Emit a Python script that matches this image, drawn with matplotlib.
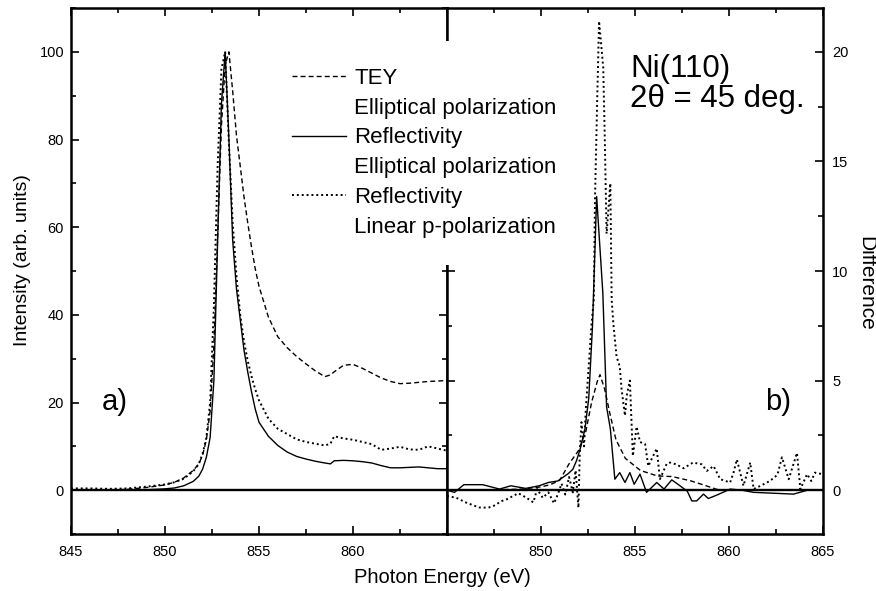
import matplotlib
matplotlib.use("Agg")
import matplotlib.pyplot as plt
from matplotlib.lines import Line2D
from matplotlib.ticker import MultipleLocator

plt.rcParams['font.family'] = ['Liberation Sans', 'DejaVu Sans']

# ---- panel a): normalised spectra -------------------------------------------
energy_a = [845, 846, 847, 848, 849, 850, 850.5, 851, 851.5, 851.8,
            852.0, 852.2, 852.4, 852.6, 852.8, 853.0, 853.2, 853.4, 853.6, 853.8,
            854.0, 854.2, 854.4, 854.6, 854.8, 855.0, 855.5, 856.0, 856.5, 857.0,
            857.5, 858.0, 858.5, 858.8, 859.0, 859.5, 860.0, 860.5, 861.0, 861.5,
            862.0, 862.5, 863.0, 863.5, 864.0, 864.5, 865.0]

tey_elliptical = [0, 0, 0, 0.2, 0.6, 1.2, 1.8, 2.8, 4.5, 6.0,
                  8.0, 11.5, 18, 33, 58, 83, 97, 100, 91, 81,
                  74, 67, 61, 55.5, 50.5, 46.5, 39.5, 35, 32.5, 30.5,
                  28.8, 27.2, 25.9, 26.3, 27.0, 28.5, 28.7, 27.8, 26.7, 25.6,
                  24.8, 24.3, 24.4, 24.6, 24.8, 24.9, 25.0]

refl_elliptical = [0, 0, 0, 0, 0.1, 0.3, 0.5, 1.0, 2.0, 3.2,
                   4.8, 7.5, 12, 25, 57, 88, 100, 80, 57, 46,
                   39, 32, 27, 22.5, 18.5, 15.5, 12.3, 10.2, 8.7, 7.7,
                   7.1, 6.6, 6.2, 6.0, 6.7, 6.8, 6.7, 6.5, 6.2, 5.6,
                   5.1, 5.1, 5.2, 5.3, 5.1, 4.9, 4.9]

refl_linear_p = [0.4, 0.4, 0.3, 0.4, 0.8, 1.3, 1.8, 2.6, 4.3, 6.0,
                 8.3, 12, 20, 42, 74, 96, 100, 79, 61, 49,
                 40, 34, 29.5, 26, 23, 20.5, 16.3, 14.0, 12.8, 11.6,
                 11.0, 10.6, 10.2, 10.6, 12.3, 11.8, 11.5, 11.0, 10.5, 9.2,
                 9.5, 9.9, 9.3, 9.2, 10.0, 9.5, 9.0]

# ---- panel b): dichroic differences -----------------------------------------
energy_b_tey = [845, 847, 849, 850, 850.5, 851.0, 851.5, 852.0, 852.4, 852.7,
                853.0, 853.15, 853.4, 853.7, 854.0, 854.5, 855.3, 856.2, 857.0,
                858.0, 858.8, 859.5, 861, 863, 865]
diff_tey = [0, 0, 0.05, 0.15, 0.25, 0.45, 1.2, 1.8, 2.7, 4.0,
            4.95, 5.27, 4.6, 3.4, 2.3, 1.45, 0.9, 0.65, 0.62,
            0.42, 0.2, 0.0, 0, 0, 0]

energy_b_refl = [845.0, 845.4, 845.9, 846.9, 847.8, 848.4, 849.2, 849.9, 850.4, 850.9,
                 851.2, 851.45, 851.7, 851.9, 852.1, 852.35, 852.55, 852.75, 852.97, 853.3,
                 853.5, 853.7, 853.94, 854.2, 854.48, 854.74, 854.97, 855.28, 855.63, 856.17,
                 856.56, 856.97, 857.41, 857.8, 858.04, 858.3, 858.66, 858.92, 859.3, 859.7,
                 860.08, 860.7, 861.33, 862.4, 863.46, 864.2, 865.0]
diff_refl = [0.0, -0.1, 0.25, 0.25, 0.05, 0.2, 0.08, 0.2, 0.35, 0.42,
             0.6, 0.75, 0.95, 1.35, 1.9, 2.8, 4.2, 7.5, 13.4, 9.0,
             3.8, 2.8, 0.5, 0.8, 0.35, 0.8, 0.27, 0.73, -0.1, 0.35,
             0.05, 0.47, 0.2, -0.05, -0.49, -0.49, -0.18, -0.38, -0.25, -0.1,
             0.05, 0.0, -0.1, -0.14, -0.18, 0.0, 0.0]

energy_b_lin = [845.0, 845.5, 846.0, 846.7, 847.2, 847.5, 847.9, 848.2, 848.8, 849.2,
                849.6, 849.8, 850.1, 850.4, 850.7, 850.9, 851.1, 851.3, 851.5, 851.7,
                851.85, 852.0, 852.07, 852.16, 852.3, 852.4, 852.52, 852.7, 852.82, 852.88,
                853.0, 853.1, 853.32, 853.4, 853.5, 853.7, 853.77, 853.86, 854.03, 854.2,
                854.3, 854.48, 854.57, 854.74, 854.9, 855.1, 855.28, 855.55, 855.72, 856.17,
                856.34, 856.7, 856.88, 857.2, 857.6, 858.1, 858.57, 858.84, 859.2, 859.55,
                860.08, 860.26, 860.44, 860.79, 861.15, 861.33, 861.7, 862.2, 862.6, 862.84,
                863.2, 863.64, 863.82, 864.18, 864.4, 864.6, 865.0]
diff_lin = [-0.26, -0.35, -0.56, -0.79, -0.8, -0.71, -0.5, -0.41, -0.14, -0.33,
            -0.56, 0.05, -0.35, -0.1, -0.6, -0.2, 0.3, -0.2, 0.6, -0.1,
            0.9, -0.8, 1.6, 3.1, 2.0, 3.8, 5.3, 7.6, 8.7, 13.2,
            17.8, 21.4, 19.3, 16.2, 11.7, 14.0, 8.7, 7.6, 6.1, 5.65,
            4.6, 3.4, 4.3, 5.0, 1.56, 2.9, 2.2, 2.1, 1.1, 1.9,
            0.5, 1.2, 1.26, 1.18, 1.0, 1.26, 1.18, 0.88, 1.1, 0.5,
            0.35, 0.8, 1.4, 0.2, 1.26, 0.05, 0.2, 0.42, 0.7, 1.5,
            0.5, 1.7, 0.05, 0.73, 0.42, 0.8, 0.73]

legend_labels = ["TEY", "Elliptical polarization",
                 "Reflectivity", "Elliptical polarization",
                 "Reflectivity", "Linear p-polarization"]

x_ticks_a = [845, 850, 855, 860]
x_ticks_b = [850, 855, 860, 865]
y_ticks_a = [0, 20, 40, 60, 80, 100]
y_ticks_b = [0, 5, 10, 15, 20]

# ---- styles -------------------------------------------------------------------
dashed = dict(color='black', lw=1.0, linestyle=(0, (3.6, 2.2)))
solid = dict(color='black', lw=1.0, linestyle='-')
dotted = dict(color='black', lw=1.4, linestyle=(0, (1.0, 1.5)))

fig = plt.figure(figsize=(8.76, 5.91), dpi=100)
W, H = 876.0, 591.0
ax1 = fig.add_axes([71 / W, 1 - 534 / H, 376 / W, 526 / H])
ax2 = fig.add_axes([447 / W, 1 - 534 / H, 375.5 / W, 526 / H])

for ax in (ax1, ax2):
    for sp in ax.spines.values():
        sp.set_linewidth(1.8)
    ax.set_xlim(845, 865)
    ax.xaxis.set_minor_locator(MultipleLocator(2.5))
    ax.tick_params(which='both', direction='in', top=True, bottom=True,
                   left=True, right=True, width=1.2, labelsize=10.5)
    ax.tick_params(which='major', length=6)
    ax.tick_params(which='minor', length=3.8)
    ax.tick_params(axis='x', pad=8)
    ax.axhline(0, color='black', lw=1.7, zorder=1)

# panel a
ax1.plot(energy_a, tey_elliptical, **dashed)
ax1.plot(energy_a, refl_elliptical, **solid)
ax1.plot(energy_a, refl_linear_p, **dotted)
ax1.set_ylim(-10, 110)
ax1.set_xticks(x_ticks_a)
ax1.set_yticks(y_ticks_a)
ax1.yaxis.set_minor_locator(MultipleLocator(10))
ax1.tick_params(axis='y', pad=5)
ax1.set_ylabel("Intensity (arb. units)", fontsize=14, va='center')
ax1.yaxis.set_label_coords(-0.130, 0.521)
ax1.set_xlabel("Photon Energy (eV)", fontsize=14.5, va='baseline')
ax1.xaxis.set_label_coords((442.5 - 71) / 376, (534 - 583) / 526)
ax1.text((102 - 71) / 376, (534 - 410) / 526, "a)", transform=ax1.transAxes,
         fontsize=21, ha='left', va='baseline')

# panel b
ax2.plot(energy_b_tey, diff_tey, **dashed)
ax2.plot(energy_b_refl, diff_refl, **solid)
ax2.plot(energy_b_lin, diff_lin, **dotted)
ax2.set_ylim(-2, 22)
ax2.set_xticks(x_ticks_b)
ax2.set_yticks(y_ticks_b)
ax2.yaxis.set_minor_locator(MultipleLocator(2.5))
ax2.tick_params(axis='y', labelleft=False, labelright=True, pad=7)
ax2.yaxis.set_label_position('right')
ax2.set_ylabel("Difference", fontsize=15, rotation=270, va='center')
ax2.yaxis.set_label_coords((866 - 447) / 375.5, (534 - 283) / 526)
ax2.text((765 - 447) / 375.5, (534 - 410) / 526, "b)", transform=ax2.transAxes,
         fontsize=21, ha='left', va='baseline')
ax2.text((630 - 447) / 375.5, (534 - 77) / 526, "Ni(110)", transform=ax2.transAxes,
         fontsize=22.5, ha='left', va='baseline')
ax2.text((630 - 447) / 375.5, (534 - 107.5) / 526, "2θ = 45 deg.", transform=ax2.transAxes,
         fontsize=22.5, ha='left', va='baseline')

# legend with continuation lines as handle-less rows
blank = Line2D([], [], linestyle='none')
handles = [Line2D([], [], **dashed), blank,
           Line2D([], [], **solid), blank,
           Line2D([], [], **dotted), blank]
fig.legend(handles, legend_labels, loc='upper left',
           bbox_to_anchor=(265 / W, 1 - 41 / H), borderaxespad=0,
           fontsize=16, frameon=True, facecolor='white', edgecolor='none',
           framealpha=1, fancybox=False, borderpad=1.2, labelspacing=0.40,
           handlelength=2.45, handletextpad=0.36)

fig.savefig("out.png", dpi=100)
